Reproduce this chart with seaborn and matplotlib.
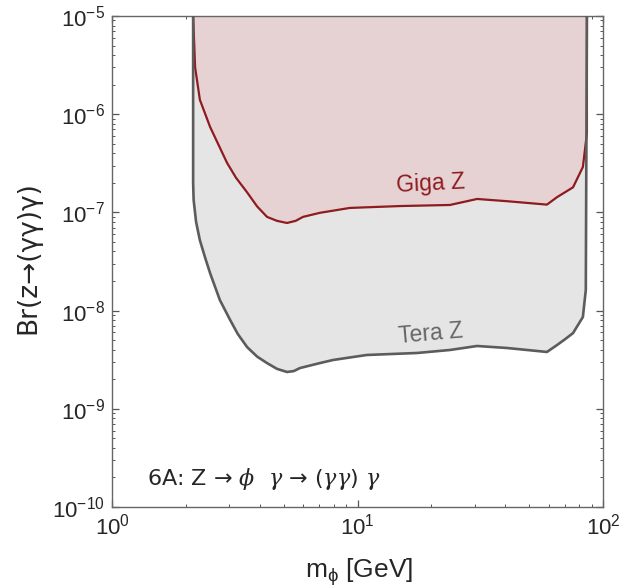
import numpy as np
import pandas as pd
import matplotlib
matplotlib.use("Agg")
import matplotlib.pyplot as plt
import seaborn as sns

# --- dados ---
giga_m = [2.14, 2.18, 2.28, 2.51, 2.94, 3.2, 3.55, 3.9, 4.28, 4.7, 5.16, 5.6, 6.0,
          7.03, 9.3, 14.9, 23.8, 30.7, 40.6, 59.1, 65.0, 75.5, 82.8, 86.0, 86.0]
giga_br = [1e-5, 3.0e-6, 1.4e-6, 7.4e-7, 3.2e-7, 2.25e-7, 1.6e-7, 1.15e-7, 9.0e-8,
           8.2e-8, 7.8e-8, 8.2e-8, 9.0e-8, 9.9e-8, 1.11e-7, 1.16e-7, 1.19e-7,
           1.37e-7, 1.3e-7, 1.2e-7, 1.43e-7, 1.8e-7, 2.9e-7, 6.4e-7, 1e-5]

tera_m = [2.14, 2.14, 2.15, 2.2, 2.28, 2.4, 2.51, 2.75, 3.03, 3.25, 3.55, 3.9, 4.28,
          4.7, 5.16, 5.5, 5.83, 7.03, 7.95, 10.9, 17.5, 23.8, 30.7, 40.6, 59.1,
          65.0, 70.0, 75.5, 82.8, 85.1, 86.0]
tera_br = [1e-5, 2.0e-7, 1.34e-7, 8.0e-8, 5.2e-8, 3.4e-8, 2.4e-8, 1.28e-8, 8.0e-9,
           5.8e-9, 4.25e-9, 3.4e-9, 2.92e-9, 2.55e-9, 2.37e-9, 2.42e-9, 2.6e-9,
           2.92e-9, 3.14e-9, 3.53e-9, 3.70e-9, 3.97e-9, 4.36e-9, 4.16e-9, 3.79e-9,
           4.46e-9, 5.1e-9, 5.9e-9, 8.6e-9, 1.62e-8, 1e-5]

x_lim = (1, 100)
y_lim = (1e-10, 1e-5)

df_giga = pd.DataFrame({"m": giga_m, "br": giga_br})
df_tera = pd.DataFrame({"m": tera_m, "br": tera_br})

sns.set_style("ticks")
plt.rcParams["font.family"] = ["Liberation Sans", "DejaVu Sans"]
plt.rcParams["mathtext.default"] = "regular"

fig = plt.figure(figsize=(6.23, 5.88), dpi=100)
ax = fig.add_axes([0.1798, 0.1378, 0.7881, 0.835])

# regioes preenchidas
ax.fill_between(df_tera["m"], df_tera["br"], y_lim[1], color="#e5e5e5", lw=0, zorder=1)
ax.fill_between(df_giga["m"], df_giga["br"], y_lim[1], color="#e6d2d3", lw=0, zorder=2)

sns.lineplot(data=df_giga, x="m", y="br", sort=False, estimator=None,
             color="#8e1b1f", lw=1.6, ax=ax, zorder=3)
sns.lineplot(data=df_tera, x="m", y="br", sort=False, estimator=None,
             color="#5c5c5c", lw=1.9, ax=ax, zorder=4)

ax.set_xscale("log")
ax.set_yscale("log")
ax.set_xlim(*x_lim)
ax.set_ylim(*y_lim)

ax.text(19.9, 1.95e-7, "Giga Z", color="#8e1b1f", fontsize=16.5,
        ha="center", va="center", rotation=3, zorder=5)
ax.text(19.9, 5.8e-9, "Tera Z", color="#666666", fontsize=16.5,
        ha="center", va="center", rotation=5, zorder=5)
anot = (r"6A: Z → $\mathit{\phi}\ \ \mathit{\gamma}$ → "
        r"$(\mathit{\gamma\gamma})\ \mathit{\gamma}$")
ax.text(0.071, 0.057, anot, transform=ax.transAxes, fontsize=16,
        family=["DejaVu Sans"], ha="left", va="center",
        math_fontfamily="dejavuserif", zorder=5)

ax.set_xlabel(r"m$_{\phi}$ [GeV]", fontsize=19, va="center")
ax.set_ylabel("Br(z→(γγ)γ)", fontsize=19, family=["DejaVu Sans"])
ax.xaxis.set_label_coords(0.503, -0.132)
ax.yaxis.set_label_coords(-0.143, 0.507)

for s in ax.spines.values():
    s.set_color("#666666")
    s.set_linewidth(1.0)
ax.tick_params(which="both", direction="in", top=True, right=True, color="#555555",
               labelsize=16, pad=5)
ax.tick_params(which="major", length=5, width=0.9)
ax.tick_params(which="minor", length=2.5, width=0.7)

fig.savefig("out.png", dpi=100)
